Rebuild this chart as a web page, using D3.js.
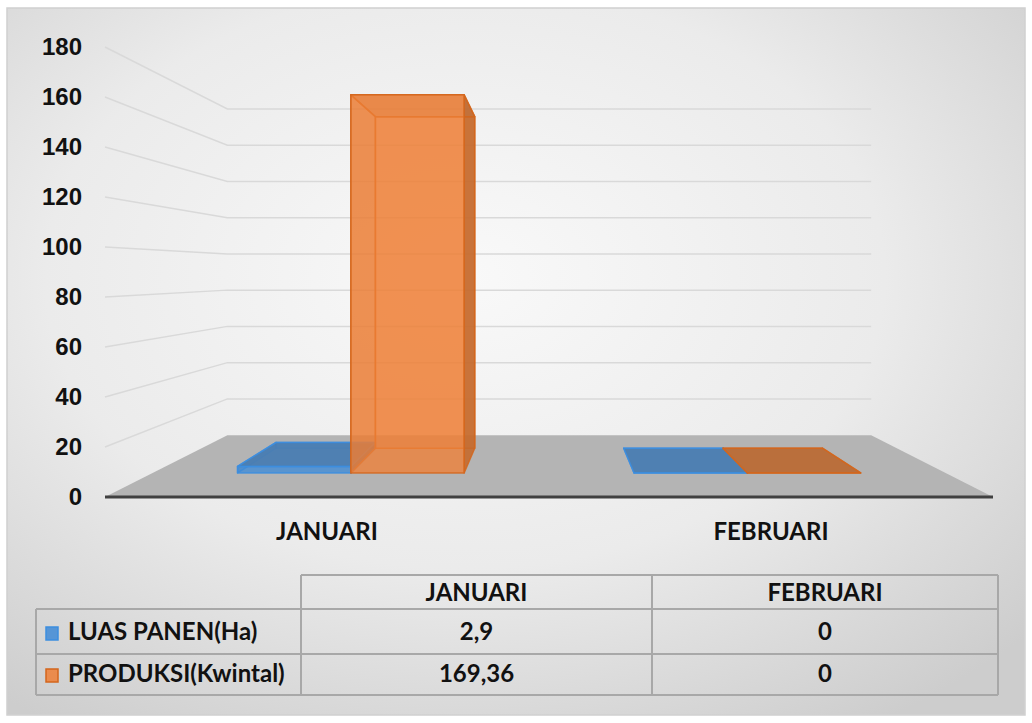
<!DOCTYPE html>
<html>
<head>
<meta charset="utf-8">
<script src="https://cdn.jsdelivr.net/npm/d3@7"></script>
<style>
    body { margin: 0; background: #ffffff; }
    #chart { width: 1032px; height: 723px; }
    svg { font-family: Lato, "Open Sans", sans-serif; font-weight: 700; }
    .axis text { font-size: 24px; fill: #111; }
    .cat--label { font-size: 24px; fill: #111; }
    .table--text { font-size: 24px; fill: #111; }
</style>
</head>
<body>
<div id="chart"></div>
<script>

const months = ["JANUARI", "FEBRUARI"];
const seriesNames = ["LUAS PANEN(Ha)", "PRODUKSI(Kwintal)"];
const luasPanen = [2.9, 0];
const produksi = [169.36, 0];
const yTicks = [0, 20, 40, 60, 80, 100, 120, 140, 160, 180];

const seriesValues = [luasPanen, produksi];

/*
SVG CANVAS
*/
const width = 1032;
const height = 723;

const svg = d3.select("#chart")
    .append("svg")
    .attr("width", width)
    .attr("height", height);

const defs = svg.append("defs");
const bg = defs.append("radialGradient")
    .attr("id", "bg")
    .attr("cx", "45%")
    .attr("cy", "38%")
    .attr("r", "75%");
bg.append("stop").attr("offset", "0%").attr("stop-color", "#f9f9f9");
bg.append("stop").attr("offset", "55%").attr("stop-color", "#ebebeb");
bg.append("stop").attr("offset", "100%").attr("stop-color", "#cdcdcd");

svg.append("rect")
    .attr("x", 7).attr("y", 8)
    .attr("width", 1018).attr("height", 707)
    .attr("fill", "url(#bg)")
    .attr("stroke", "#d0d0d0")
    .attr("stroke-width", 1.5);

/*
SCALES + PERSPECTIVE
*/
const yScale = d3.scaleLinear()
    .domain([0, 180])
    .range([497, 47]);

const xScale = d3.scaleBand()
    .domain(months)
    .range([105, 993]);

const xInner = d3.scaleBand()
    .domain(seriesNames)
    .range([0, xScale.bandwidth()])
    .paddingInner(0)
    .paddingOuter(0.75);

// vanishing point and depth factors (front plane = 1)
const vp = {x: 550, y: 272};
const floorBack = 0.725;
const barFront = 0.893;
const barBack = 0.783;

function proj(x, y, s) {
    return [vp.x + s * (x - vp.x), vp.y + s * (y - vp.y)];
}

const line = d3.line();
function poly(pts) {
    return line(pts) + "Z";
}

/*
FLOOR + GRIDLINES
*/
const x0 = xScale.range()[0];
const x1 = xScale.range()[1];

svg.append("path")
    .attr("d", poly([proj(x0, yScale(0), 1), proj(x1, yScale(0), 1),
        proj(x1, yScale(0), floorBack), proj(x0, yScale(0), floorBack)]))
    .attr("fill", "#b4b4b4");

svg.selectAll(".grid")
    .data(yTicks.filter(function(d) { return d > 0; }))
    .enter()
    .append("path")
        .attr("class", "grid")
        .attr("d", function(d) {
            return line([proj(x0, yScale(d), 1), proj(x0, yScale(d), floorBack), proj(x1, yScale(d), floorBack)]);
        })
        .attr("fill", "none")
        .attr("stroke", "#d9d9d9")
        .attr("stroke-width", 1.5);

/*
BARS
*/
const colors = {
    "LUAS PANEN(Ha)": {front: "#3f8ad6", top: "#4a7db2", side: "#3b6ea3", stroke: "#3c8ee0"},
    "PRODUKSI(Kwintal)": {front: "#ee7f36", top: "#bb6c36", side: "#c4692c", stroke: "#d4661c"}
};

const bars = [];
months.forEach(function(m, i) {
    seriesNames.forEach(function(s, j) {
        bars.push({month: m, series: s, value: seriesValues[j][i]});
    });
});

bars.forEach(function(d) {
    const bx0 = xScale(d.month) + xInner(d.series);
    const bx1 = bx0 + xInner.bandwidth();
    const yb = yScale(0);
    const yt = yScale(d.value);
    const c = colors[d.series];
    const g = svg.append("g");

    const faces = [
        {pts: [[bx0, yt, barBack], [bx1, yt, barBack], [bx1, yb, barBack], [bx0, yb, barBack]], fill: c.front, op: 0.35},
        {pts: [[bx0, yt, barFront], [bx0, yt, barBack], [bx0, yb, barBack], [bx0, yb, barFront]], fill: c.side, op: 0.3},
        {pts: [[bx1, yt, barFront], [bx1, yt, barBack], [bx1, yb, barBack], [bx1, yb, barFront]], fill: c.side, op: 0.9},
        {pts: [[bx0, yt, barFront], [bx1, yt, barFront], [bx1, yt, barBack], [bx0, yt, barBack]], fill: c.top, op: d.value > 10 ? 0.5 : 0.95},
        {pts: [[bx0, yt, barFront], [bx1, yt, barFront], [bx1, yb, barFront], [bx0, yb, barFront]], fill: c.front, op: 0.78}
    ];

    faces.forEach(function(f) {
        g.append("path")
            .attr("d", poly(f.pts.map(function(p) { return proj(p[0], p[1], p[2]); })))
            .attr("fill", f.fill)
            .attr("fill-opacity", f.op)
            .attr("stroke", c.stroke)
            .attr("stroke-opacity", 0.85)
            .attr("stroke-width", 1.5)
            .attr("stroke-linejoin", "round");
    });
});

/*
AXES
*/
svg.append("line")
    .attr("x1", x0).attr("x2", x1)
    .attr("y1", yScale(0)).attr("y2", yScale(0))
    .attr("stroke", "#404040")
    .attr("stroke-width", 3);

const yAxis = svg.append("g")
    .attr("class", "axis")
    .attr("transform", "translate(88,0)")
    .call(d3.axisLeft(yScale).tickValues(yTicks).tickSize(0).tickPadding(6));
yAxis.select(".domain").remove();
yAxis.selectAll("text").attr("font-family", null).attr("font-size", null);

svg.selectAll(".cat--label")
    .data(months)
    .enter()
    .append("text")
        .attr("class", "cat--label")
        .attr("x", function(d) { return xScale(d) + xScale.bandwidth() / 2; })
        .attr("y", 540)
        .attr("text-anchor", "middle")
        .text(function(d) { return d; });

/*
DATA TABLE
*/
const colX = [36, 301, 652, 998];
const rowY = [575, 609, 654, 695];
const tbl = svg.append("g");
const border = "#a8a8a8";

function hline(xa, xb, y) {
    tbl.append("line").attr("x1", xa).attr("x2", xb).attr("y1", y).attr("y2", y)
        .attr("stroke", border).attr("stroke-width", 2);
}
function vline(x, ya, yb) {
    tbl.append("line").attr("x1", x).attr("x2", x).attr("y1", ya).attr("y2", yb)
        .attr("stroke", border).attr("stroke-width", 2);
}

hline(colX[1], colX[3], rowY[0]);
hline(colX[0], colX[3], rowY[1]);
hline(colX[0], colX[3], rowY[2]);
hline(colX[0], colX[3], rowY[3]);
vline(colX[0], rowY[1], rowY[3]);
vline(colX[1], rowY[0], rowY[3]);
vline(colX[2], rowY[0], rowY[3]);
vline(colX[3], rowY[0], rowY[3]);

const rowBase = [601, 640, 682];

months.forEach(function(m, i) {
    tbl.append("text")
        .attr("class", "table--text")
        .attr("x", (colX[i + 1] + colX[i + 2]) / 2)
        .attr("y", rowBase[0])
        .attr("text-anchor", "middle")
        .text(m);
});

seriesNames.forEach(function(s, j) {
    const by = rowBase[j + 1];
    tbl.append("rect")
        .attr("x", 46).attr("y", by - 13)
        .attr("width", 12).attr("height", 13)
        .attr("fill", colors[s].front)
        .attr("fill-opacity", 0.85)
        .attr("stroke", colors[s].stroke)
        .attr("stroke-width", 1.5);
    tbl.append("text")
        .attr("class", "table--text")
        .attr("x", 68)
        .attr("y", by)
        .text(s);
    months.forEach(function(m, i) {
        tbl.append("text")
            .attr("class", "table--text")
            .attr("x", (colX[i + 1] + colX[i + 2]) / 2)
            .attr("y", by)
            .attr("text-anchor", "middle")
            .text(String(seriesValues[j][i]).replace(".", ","));
    });
});

</script>
</body>
</html>
